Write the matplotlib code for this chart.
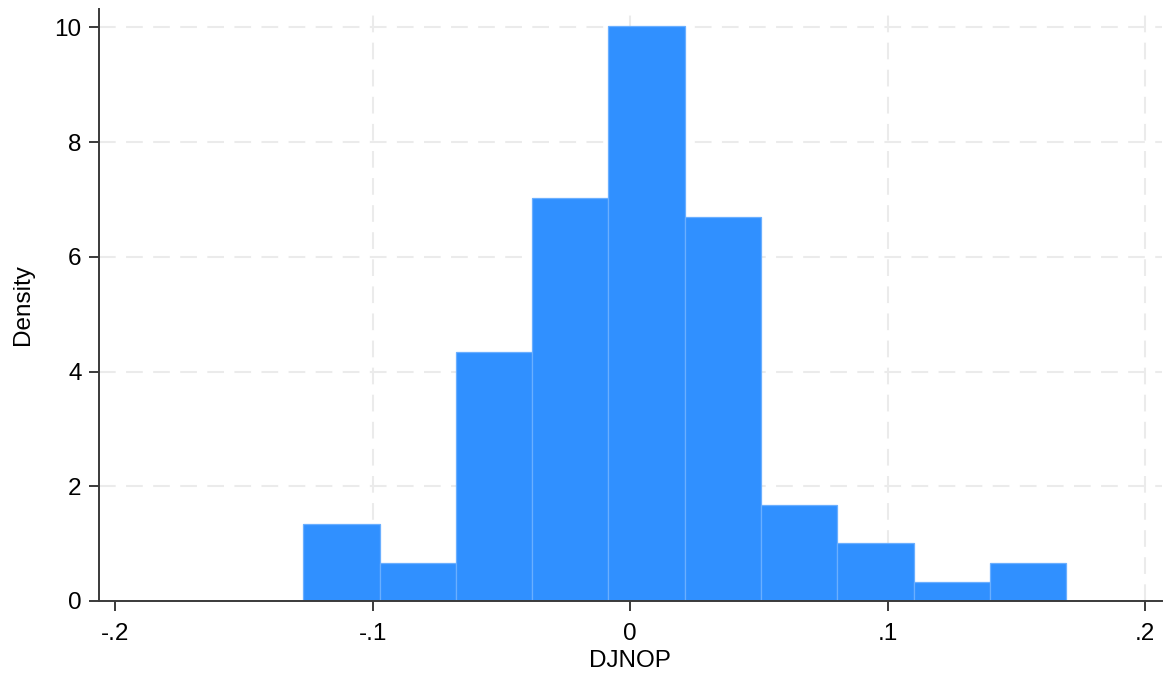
import numpy as np
import matplotlib
matplotlib.use("Agg")
import matplotlib.pyplot as plt

plt.rcParams["font.family"] = ["Liberation Sans", "DejaVu Sans"]

# histogram of DJNOP: 10 bins, counts per bin
bin_start = -0.1269
bin_width = 0.02962
counts = [4, 2, 13, 21, 30, 20, 5, 3, 1, 2]

xticks = [-0.2, -0.1, 0.0, 0.1, 0.2]
xtick_labels = ["-.2", "-.1", "0", ".1", ".2"]
yticks = [0, 2, 4, 6, 8, 10]

counts = np.array(counts)
n_obs = counts.sum()
density = counts / (n_obs * bin_width)
lefts = bin_start + bin_width * np.arange(len(counts))

fig = plt.figure(figsize=(11.64, 6.8), dpi=100)
ax = fig.add_axes([0.0851, 0.1162, 0.9129, 0.8706])

# dashed grid behind the bars, skipping the lowest tick on each axis
grid_kw = dict(color="#ebebeb", linewidth=1.5, dashes=(8, 5), zorder=0)
for x in xticks[1:]:
    ax.axvline(x, **grid_kw)
for y in yticks[1:]:
    ax.axhline(y, **grid_kw)

ax.bar(lefts, density, width=bin_width, align="edge",
       color="#3090ff", edgecolor="#6aafff", linewidth=0.9, zorder=2)

ax.set_xlim(-0.2062, 0.2064)
ax.set_ylim(0, 10.32)

ax.set_xticks(xticks)
ax.set_xticklabels(xtick_labels)
ax.set_yticks(yticks)

for side in ("top", "right"):
    ax.spines[side].set_visible(False)
for side in ("left", "bottom"):
    ax.spines[side].set_color("#3a3a3a")
    ax.spines[side].set_linewidth(1.4)
    ax.spines[side].set_zorder(3)

ax.tick_params(axis="both", labelsize=17.5, colors="#3a3a3a",
               labelcolor="black", length=7.5, width=1.4)
ax.tick_params(axis="x", pad=8)
ax.tick_params(axis="y", pad=5)

ax.set_xlabel("DJNOP", fontsize=17.5, labelpad=4)
ax.set_ylabel("Density", fontsize=17.5, labelpad=15)

fig.savefig("out.png", dpi=100, facecolor="white")
